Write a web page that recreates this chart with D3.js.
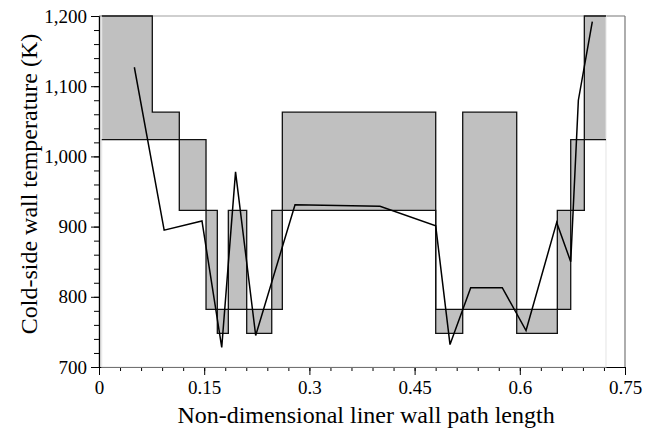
<!DOCTYPE html>
<html>
<head>
<meta charset="utf-8">
<script src="https://cdn.jsdelivr.net/npm/d3@7"></script>
<style>
  html, body { margin: 0; padding: 0; background: #fff; }
  svg { display: block; }
  text { font-family: "Liberation Serif", "Times New Roman", "DejaVu Serif", serif; fill: #000; }
</style>
</head>
<body>
<svg id="chart" width="655" height="432"></svg>
<script>
// ---- data ----
const stepX = [0.0039, 0.0760, 0.1145, 0.1526, 0.1687, 0.1844, 0.2106, 0.2463, 0.2614, 0.4801, 0.5186, 0.5956, 0.6535, 0.6726, 0.6920, 0.7229];
const upperT = [1200, 1063, 1024, 923, 782, 923, 782, 923, 1063, 782, 1063, 782, 923, 1024, 1200];
const lowerT = [1024, 1024, 923, 782, 748, 782, 748, 782, 923, 748, 782, 748, 782, 923, 1024];
const lineX = [0.0504, 0.0929, 0.1468, 0.1750, 0.1947, 0.2234, 0.2795, 0.4007, 0.4801, 0.5005, 0.5300, 0.5750, 0.6089, 0.6526, 0.6726, 0.6835, 0.7034];
const lineT = [1127, 895, 908, 728, 978, 745, 931, 929, 901, 732, 813, 813, 752, 906, 850, 1080, 1192];
const xTicks = [0, 0.15, 0.3, 0.45, 0.6, 0.75];
const xTickLabels = ["0", "0.15", "0.3", "0.45", "0.6", "0.75"];
const yTicks = [700, 800, 900, 1000, 1100, 1200];
const yTickLabels = ["700", "800", "900", "1,000", "1,100", "1,200"];
const xTitle = "Non-dimensional liner wall path length";
const yTitle = "Cold-side wall temperature (K)";

const FONT = '"Liberation Serif", "Times New Roman", serif';
const svg = d3.select("#chart");
const x = d3.scaleLinear().domain([0, 0.75]).range([99, 625]);
const y = d3.scaleLinear().domain([700, 1200]).range([367, 16]);

const band = stepX.map((sx, i) => ({
  x: sx,
  hi: upperT[Math.min(i, upperT.length - 1)],
  lo: lowerT[Math.min(i, lowerT.length - 1)]
}));

svg.append("path")
  .datum(band)
  .attr("fill", "#c0c0c0")
  .attr("d", d3.area().curve(d3.curveStepAfter)
    .x(d => x(d.x)).y0(d => y(d.lo)).y1(d => y(d.hi)));

// frame (top & right, gray)
svg.append("line").attr("x1", x(0)).attr("x2", x(0.75)).attr("y1", y(1200)).attr("y2", y(1200))
  .attr("stroke", "#777").attr("stroke-width", 1.2);
svg.append("line").attr("x1", x(0.75)).attr("x2", x(0.75)).attr("y1", y(1200)).attr("y2", y(700))
  .attr("stroke", "#777").attr("stroke-width", 1.2);

// axes
const xAxisMinor = d3.axisBottom(x).tickValues(d3.range(0, 0.7501, 0.03)).tickSize(4).tickSizeOuter(0).tickFormat("");
const xAxisMajor = d3.axisBottom(x).tickValues(xTicks).tickSize(8).tickSizeOuter(0).tickPadding(6)
  .tickFormat((d, i) => xTickLabels[i]);
const yAxisMinor = d3.axisLeft(y).tickValues(d3.range(700, 1200.1, 20)).tickSize(5).tickSizeOuter(0).tickFormat("");
const yAxisMajor = d3.axisLeft(y).tickValues(yTicks).tickSize(8).tickSizeOuter(0).tickPadding(4)
  .tickFormat((d, i) => yTickLabels[i]);

function styleAxis(g) {
  g.attr("font-family", FONT).attr("font-size", 19);
  g.select(".domain").attr("stroke", "#000").attr("stroke-width", 1.2);
  g.selectAll(".tick line").attr("stroke", "#000").attr("stroke-width", 1);
  g.selectAll("text").attr("font-size", 19).attr("fill", "#000")
    .attr("font-family", FONT).style("font-family", FONT);
}
svg.append("g").attr("transform", `translate(0,${y(700)})`).call(xAxisMinor).call(styleAxis);
svg.append("g").attr("transform", `translate(0,${y(700)})`).call(xAxisMajor).call(styleAxis);
svg.append("g").attr("transform", `translate(${x(0)},0)`).call(yAxisMinor).call(styleAxis);
svg.append("g").attr("transform", `translate(${x(0)},0)`).call(yAxisMajor).call(styleAxis);

// faint box around band region
svg.append("rect")
  .attr("x", x(stepX[0])).attr("y", y(1200))
  .attr("width", x(stepX[stepX.length - 1]) - x(stepX[0]))
  .attr("height", y(700) - y(1200))
  .attr("fill", "none").attr("stroke", "#e4e4e4").attr("stroke-width", 1);

// step lines
svg.append("path").datum(band).attr("fill", "none").attr("stroke", "#111").attr("stroke-width", 1.3)
  .attr("d", d3.line().curve(d3.curveStepAfter).x(d => x(d.x)).y(d => y(d.hi)));
svg.append("path").datum(band).attr("fill", "none").attr("stroke", "#111").attr("stroke-width", 1.3)
  .attr("d", d3.line().curve(d3.curveStepAfter).x(d => x(d.x)).y(d => y(d.lo)));

// data line
const pts = lineX.map((v, i) => [v, lineT[i]]);
svg.append("path").datum(pts).attr("fill", "none").attr("stroke", "#000").attr("stroke-width", 1.5)
  .attr("d", d3.line().x(d => x(d[0])).y(d => y(d[1])));

// titles
svg.append("text").attr("x", 366).attr("y", 423).attr("text-anchor", "middle")
  .attr("font-family", FONT).attr("font-size", 24).text(xTitle);
svg.append("text").attr("transform", "translate(37,184) rotate(-90)").attr("text-anchor", "middle")
  .attr("font-family", FONT).attr("font-size", 24).text(yTitle);
</script>
</body>
</html>
